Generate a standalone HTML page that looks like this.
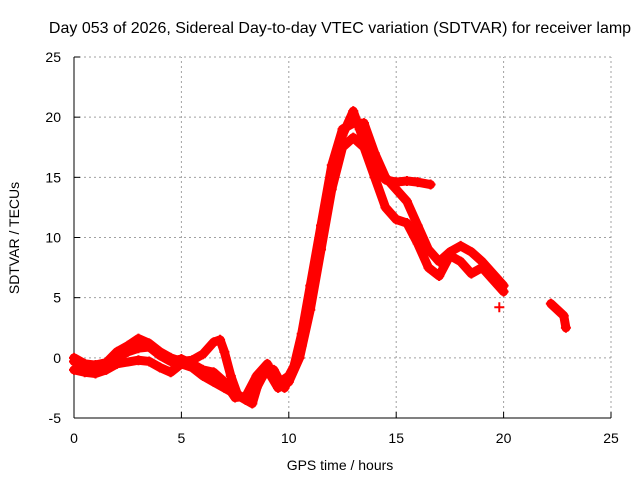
<!DOCTYPE html>
<html><head><meta charset="utf-8"><style>
body{margin:0;background:#fff}
svg{display:block;font-family:"Liberation Sans",sans-serif}
</style></head><body>
<svg id="chart" width="640" height="480">
<text x="340" y="33" text-anchor="middle" font-size="16">Day 053 of 2026, Sidereal Day-to-day VTEC variation (SDTVAR) for receiver lamp</text>
<g id="grid"></g>
<g id="axes"></g>
<g id="marks"></g>
<text x="340" y="470" text-anchor="middle" font-size="14">GPS time / hours</text>
<text transform="translate(19,238) rotate(-90)" text-anchor="middle" font-size="14">SDTVAR / TECUs</text>
</svg>
<script>
const xTicks=[0,5,10,15,20,25];
const yTicks=[-5,0,5,10,15,20,25];
const seriesAHours=[0,0.5,1,1.5,2,2.5,3,3.5,4,4.5,5,5.5,6,6.5,6.8,7,7.3,7.6,8,8.5,9,9.3,9.6,10,10.3,10.6,11,11.5,12,12.5,13,13.3,13.7,14,14.5,15,15.5,16,16.6];
const seriesAValues=[0,-0.5,-0.6,-0.4,0.5,1.0,1.6,1.2,0.5,0,-0.3,-0.2,0.3,1.3,1.5,0.5,-1.5,-3,-3.5,-2.5,-0.8,-1,-2,-1.5,-0.5,1,5,10,15,18.5,20.5,19,17,15.8,14.8,14.6,14.7,14.6,14.4];
const seriesBHours=[0,0.5,1,1.5,2,3,3.5,4,4.5,5,5.5,6,6.5,7,7.5,8,8.3,8.6,9,9.5,10,10.5,11,11.5,12,12.5,13,13.5,14,14.5,15,15.5,16,16.5,17,17.5,18,18.5,19,19.5,20];
const seriesBValues=[-1,-1.2,-1.3,-1.0,-0.5,-0.2,-0.3,-0.8,-1.2,-0.5,-0.8,-1.5,-2,-2.5,-3,-3.5,-3.8,-2,-1,-2.5,-2,0,4,9,14,17.5,18.3,17.5,15,12.5,11.5,11.2,9.5,7.5,6.8,8.5,8,7,7.5,6.5,5.5];
const seriesCHours=[0,1,2,2.5,3,3.5,4,4.5,5,5.5,6,6.5,7,7.5,8,8.5,9,9.3,9.8,10.2,10.6,11,11.5,12,12.5,13,13.5,14,14.5,15,15.5,16,16.5,17,17.5,18,18.5,19,19.5,20];
const seriesCValues=[-0.3,-0.8,0,0.5,0.8,0.9,0.2,-0.3,-0.1,-0.5,-1,-1.2,-2,-3.3,-3.2,-1.5,-0.5,-1.5,-2.5,-1,2,6,11,16,19,19.5,19.5,17,15,14,13,11,9,8,8.8,9.3,8.8,8,7,6];
const seriesDHours=[22.2,22.5,22.8,22.9];
const seriesDValues=[4.5,4,3.5,2.5];
const isolatedHours=[19.8];
const isolatedValues=[4.2];

const X0=74,X1=611,Y0=418,Y1=57;
const xs=h=>X0+(h-0)/25*(X1-X0);
const ys=v=>Y0-(v+5)/30*(Y0-Y1);
const NS="http://www.w3.org/2000/svg";
function mk(t,p,a){const e=document.createElementNS(NS,t);for(const k in a)e.setAttribute(k,a[k]);p.appendChild(e);return e;}
const grid=document.getElementById('grid'),axes=document.getElementById('axes'),marks=document.getElementById('marks');
xTicks.forEach(t=>{
  if(t>0){const l=mk('line',grid,{x1:xs(t),x2:xs(t),y1:Y0,y2:Y1,stroke:'#a0a0a0','stroke-dasharray':'2,3'});
  
  }
  mk('line',axes,{x1:xs(t),x2:xs(t),y1:Y0,y2:Y0-6,stroke:'#000'});
  const tx=mk('text',axes,{x:xs(t),y:443,'text-anchor':'middle','font-size':14});tx.textContent=t;
  
  
});
yTicks.forEach(t=>{
  if(t>-5){const l=mk('line',grid,{x1:X0,x2:X1,y1:ys(t),y2:ys(t),stroke:'#a0a0a0','stroke-dasharray':'2,3'});
  
  }
  mk('line',axes,{x1:X0,x2:X0+6,y1:ys(t),y2:ys(t),stroke:'#000'});
  const tx=mk('text',axes,{x:61,y:ys(t)+5,'text-anchor':'end','font-size':14});tx.textContent=t;
  
  
});
mk('line',axes,{x1:X0,x2:X0,y1:Y0,y2:Y1,stroke:'#000'});
mk('line',axes,{x1:X0,x2:X1,y1:Y0,y2:Y0,stroke:'#000'});
function drawSeries(hs,vs,name){
  const g=mk('g',marks,{});
  
  
  if(hs.length>1){
    mk('polyline',g,{points:hs.map((h,i)=>xs(h)+','+ys(vs[i])).join(' '),fill:'none',stroke:'#f00','stroke-width':9,'stroke-linejoin':'round','stroke-linecap':'round'});
  }
  hs.forEach((h,i)=>{
    const p=mk('path',g,{d:`M${xs(h)-5},${ys(vs[i])}h10M${xs(h)},${ys(vs[i])-5}v10`,stroke:'#f00','stroke-width':2});
    
    
  });
}
drawSeries(seriesAHours,seriesAValues,'series-a');
drawSeries(seriesBHours,seriesBValues,'series-b');
drawSeries(seriesCHours,seriesCValues,'series-c');
drawSeries(seriesDHours,seriesDValues,'series-d');
drawSeries(isolatedHours,isolatedValues,'isolated-point');
</script>
</body></html>
